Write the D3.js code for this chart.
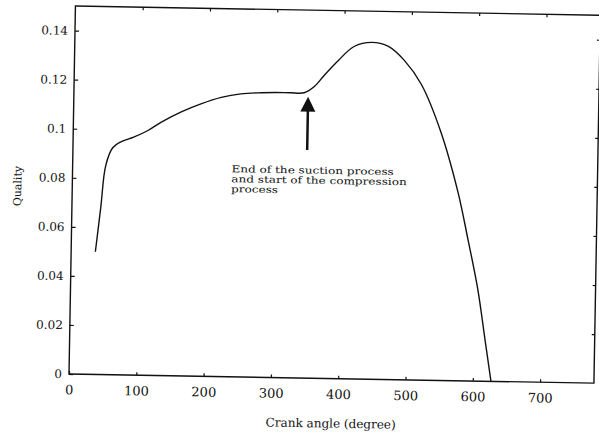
<!DOCTYPE html>
<html>
<head>
<meta charset="utf-8">
<script src="https://cdn.jsdelivr.net/npm/d3@7"></script>
<style>
  body { margin: 0; background: #fff; }
  text { font-family: "DejaVu Serif", "Liberation Serif", serif; fill: #111; }
</style>
</head>
<body>
<div id="chart"></div>
<script>
// crank angle (degree) vs quality
var angle = [36, 43, 49, 59, 71, 90, 111, 130, 160, 189, 219, 248, 278, 300, 322, 342,
    357, 371, 392, 415, 441, 466, 490, 516, 546, 573, 589, 605, 617, 627];
var quality = [0.050, 0.0685, 0.085, 0.0925, 0.095, 0.097, 0.0998, 0.1032, 0.1076, 0.111,
    0.1138, 0.1154, 0.116, 0.1162, 0.1162, 0.1163, 0.1189, 0.1234, 0.1297, 0.1355, 0.1373,
    0.1358, 0.1302, 0.1205, 0.1014, 0.077, 0.0579, 0.0375, 0.0171, 0];

var xTicks = [0, 100, 200, 300, 400, 500, 600, 700];
var yTicks = [0, 0.02, 0.04, 0.06, 0.08, 0.1, 0.12, 0.14];
var yTickLabels = ["0", "0.02", "0.04", "0.06", "0.08", "0.1", "0.12", "0.14"];

var noteLines = ["End of the suction process", "and start of the compression", "process"];
var arrowAt = [348, 0.093, 0.1147]; // angle, shaft foot, tip

var width = 599, height = 435;
var marginL = 69, marginT = 6, plotW = 525, plotH = 368;

var svg = d3.select("#chart").append("svg")
    .attr("width", width).attr("height", height);

// the scan is tilted by about one degree
var g = svg.append("g")
    .attr("transform", "rotate(1," + marginL + "," + (marginT + plotH) + ") translate(" + marginL + "," + marginT + ")");

var x = d3.scaleLinear().domain([0, 780]).range([0, plotW]);
var y = d3.scaleLinear().domain([0, 0.15]).range([plotH, 0]);

var xAxis = g.append("g").attr("transform", "translate(0," + plotH + ")")
    .call(d3.axisBottom(x).tickValues(xTicks).tickSize(-3).tickSizeOuter(0).tickPadding(11));
var yAxis = g.append("g")
    .call(d3.axisLeft(y).tickValues(yTicks).tickSize(-4).tickSizeOuter(0).tickPadding(7)
        .tickFormat(function (d, i) { return yTickLabels[i]; }));
g.append("g")
    .call(d3.axisTop(x).tickValues(xTicks.slice(1)).tickSize(-3).tickSizeOuter(0).tickFormat(""));
g.append("g").attr("transform", "translate(" + plotW + ",0)")
    .call(d3.axisRight(y).tickValues(yTicks.slice(1)).tickSize(-3).tickSizeOuter(0).tickFormat(""));

g.selectAll(".domain").remove();
g.selectAll(".tick line").attr("stroke", "#111").attr("stroke-width", 1.2);
xAxis.selectAll("text").style("font-size", "13px").attr("fill", "#111");
yAxis.selectAll("text").style("font-size", "12px").attr("fill", "#111");

g.append("rect").attr("width", plotW).attr("height", plotH)
    .attr("fill", "none").attr("stroke", "#111").attr("stroke-width", 1.4);

var line = d3.line()
    .x(function (d, i) { return x(angle[i]); })
    .y(function (d) { return y(d); })
    .curve(d3.curveCatmullRom.alpha(0.5));

g.append("path").datum(quality)
    .attr("d", line)
    .attr("fill", "none").attr("stroke", "#111").attr("stroke-width", 1.4);

// arrow
var ax = x(arrowAt[0]);
g.append("line")
    .attr("x1", ax).attr("x2", ax)
    .attr("y1", y(arrowAt[1])).attr("y2", y(arrowAt[2]) + 12)
    .attr("stroke", "#111").attr("stroke-width", 2.5);
g.append("path")
    .attr("d", "M" + ax + "," + y(arrowAt[2]) + "l-7.5,15h15z")
    .attr("fill", "#111");

// the scanned note is wide for its height
g.append("g")
    .attr("transform", "translate(" + x(236) + "," + y(0.0834) + ") scale(1.27,1)")
    .append("text")
    .style("font-size", "9.5px")
    .selectAll("tspan").data(noteLines).enter().append("tspan")
    .attr("x", 0).attr("dy", function (d, i) { return i ? 10 : 0; })
    .text(function (d) { return d; });

g.append("text")
    .attr("x", plotW / 2).attr("y", plotH + 49)
    .attr("text-anchor", "middle").style("font-size", "12px")
    .text("Crank angle (degree)");

g.append("text")
    .attr("transform", "translate(-51," + (plotH / 2 - 3) + ") rotate(-90)")
    .attr("text-anchor", "middle").style("font-size", "11px")
    .text("Quality");
</script>
</body>
</html>
